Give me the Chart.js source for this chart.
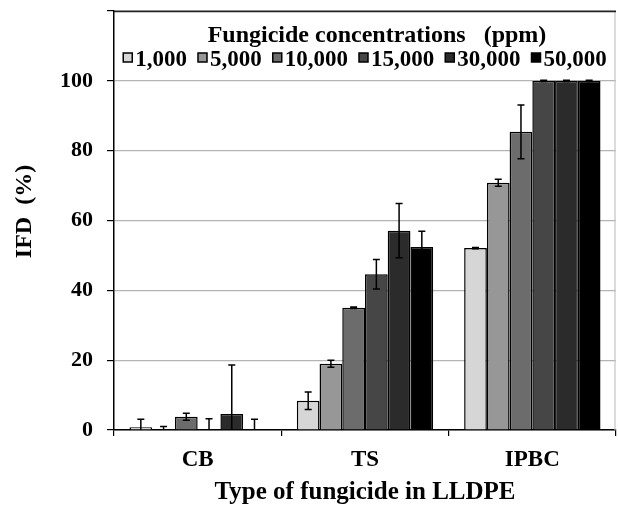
<!DOCTYPE html>
<html>
<head>
<meta charset="utf-8">
<script src="https://cdn.jsdelivr.net/npm/chart.js@4"></script>
<style>
  html, body { margin: 0; padding: 0; background: #fff; }
  #wrap { width: 618px; height: 505px; }
</style>
</head>
<body>
<div id="wrap"><canvas id="chart"></canvas></div>
<script>
// ===== DATA =====
const categories = ["CB", "TS", "IPBC"];
const concentrations = ["1,000", "5,000", "10,000", "15,000", "30,000", "50,000"];
const colors = ["#d6d6d6", "#979797", "#6c6c6c", "#464646", "#2b2b2b", "#000000"];

const ifd1000 = [0.8, 8.4, 52.1];
const ifd5000 = [0, 19, 70.8];
const ifd10000 = [3.8, 35, 85.4];
const ifd15000 = [0, 44.6, 100];
const ifd30000 = [4.6, 57.1, 100];
const ifd50000 = [0, 52.4, 100];

const err1000 = [2.3, 2.5, 0.2];
const err5000 = [1.0, 1.0, 1.0];
const err10000 = [1.0, 0.2, 7.7];
const err15000 = [3.2, 4.2, 0.2];
const err30000 = [14, 7.8, 0.2];
const err50000 = [3.1, 4.5, 0.2];

const yTicks = [0, 20, 40, 60, 80, 100, 120];

const values = [ifd1000, ifd5000, ifd10000, ifd15000, ifd30000, ifd50000];
const errors = [err1000, err5000, err10000, err15000, err30000, err50000];

const FONT = "'Liberation Serif', 'Times New Roman', serif";

// ===== FRAME (top + right edge of plot) =====
const plotFrame = {
  id: "plotFrame",
  afterDraw(chart) {
    const { ctx, chartArea: a } = chart;
    ctx.save();
    ctx.lineWidth = 1.2;
    ctx.strokeStyle = "#c4c4c4";
    ctx.beginPath();
    ctx.moveTo(a.right - 1, a.top);
    ctx.lineTo(a.right - 1, a.bottom);
    ctx.stroke();
    ctx.lineWidth = 1.5;
    ctx.strokeStyle = "#222";
    ctx.beginPath();
    ctx.moveTo(a.left, Math.round(a.top) + 0.5);
    ctx.lineTo(a.right, Math.round(a.top) + 0.5);
    ctx.stroke();
    ctx.restore();
  }
};

// ===== ERROR BARS =====
const errorBars = {
  id: "errorBars",
  afterDatasetsDraw(chart) {
    const { ctx } = chart;
    const y = chart.scales.y;
    ctx.save();
    ctx.strokeStyle = "#000";
    ctx.lineWidth = 1.5;
    chart.data.datasets.forEach((ds, i) => {
      const meta = chart.getDatasetMeta(i);
      meta.data.forEach((bar, j) => {
        const e = errors[i][j];
        if (!e) return;
        const v = ds.data[j];
        const yTop = y.getPixelForValue(v + e);
        const yBot = y.getPixelForValue(Math.max(0, v - e));
        const x = bar.x;
        ctx.beginPath();
        ctx.moveTo(x, yTop);
        ctx.lineTo(x, yBot);
        ctx.moveTo(x - 3.5, yTop);
        ctx.lineTo(x + 3.5, yTop);
        if (v - e > 0) {
          ctx.moveTo(x - 3.5, yBot);
          ctx.lineTo(x + 3.5, yBot);
        }
        ctx.stroke();
      });
    });
    ctx.restore();
  }
};

// ===== LEGEND (inside plot, one row) =====
const innerLegend = {
  id: "innerLegend",
  afterDraw(chart) {
    const { ctx, chartArea } = chart;
    const cx = (chartArea.left + chartArea.right) / 2;
    ctx.save();
    ctx.fillStyle = "#000";
    ctx.textBaseline = "alphabetic";

    ctx.font = "bold 24px " + FONT;
    ctx.textAlign = "center";
    ctx.fillText("Fungicide concentrations   (ppm)", cx + 12, 42);

    ctx.font = "bold 23px " + FONT;
    ctx.textAlign = "left";
    const box = 9, gap = 3, spacing = 11;
    const sets = chart.data.datasets;
    const widths = sets.map(ds => box + gap + ctx.measureText(ds.label).width);
    const total = widths.reduce((a, b) => a + b, 0) + spacing * (sets.length - 1);
    let x = cx - total / 2;
    sets.forEach((ds, i) => {
      ctx.fillStyle = ds.backgroundColor;
      ctx.fillRect(x, 53, box, box);
      ctx.strokeStyle = "#000";
      ctx.lineWidth = 1.5;
      ctx.strokeRect(x, 53, box, box);
      ctx.fillStyle = "#000";
      ctx.fillText(ds.label, x + box + gap, 66);
      x += widths[i] + spacing;
    });
    ctx.restore();
  }
};

// ===== CHART =====
new Chart(document.getElementById("chart"), {
  type: "bar",
  data: {
    labels: categories,
    datasets: concentrations.map((c, i) => ({
      label: c,
      data: values[i],
      backgroundColor: colors[i],
      borderColor: "#000",
      borderWidth: 1.5,
      categoryPercentage: 0.815,
      barPercentage: 1.0
    }))
  },
  options: {
    responsive: true,
    maintainAspectRatio: false,
    animation: false,
    layout: { padding: { top: 11, right: 2, left: 0, bottom: 0 } },
    plugins: {
      tooltip: { enabled: false },
      legend: { display: false }
    },
    scales: {
      x: {
        afterFit: s => { s.height = 75; s.paddingLeft = 0; s.paddingRight = 0; },
        border: { color: "#000", width: 1.5 },
        grid: {
          offset: true,
          drawOnChartArea: false,
          tickColor: "#000",
          tickLength: 6,
          lineWidth: 1.2
        },
        ticks: {
          color: "#000",
          padding: 10,
          font: { family: FONT, size: 23, weight: "bold" }
        },
        title: {
          display: true,
          text: "Type of fungicide in LLDPE",
          color: "#000",
          padding: { top: 0, bottom: 0 },
          font: { family: FONT, size: 25, weight: "bold", lineHeight: 1.0 }
        }
      },
      y: {
        min: 0,
        max: 120,
        afterFit: s => { s.width = 114; s.paddingTop = 0; s.paddingBottom = 0; },
        afterBuildTicks: s => { s.ticks = yTicks.map(v => ({ value: v })); },
        border: { color: "#000", width: 1.5 },
        grid: {
          color: "#b4b4b4",
          tickColor: "#000",
          tickLength: 7,
          lineWidth: 1.2
        },
        ticks: {
          color: "#000",
          padding: 14,
          font: { family: FONT, size: 22, weight: "bold" },
          callback: v => (v === 120 ? "" : v)
        },
        title: {
          display: true,
          text: "   IFD  (%)",
          color: "#000",
          padding: { top: 10, bottom: 0 },
          font: { family: FONT, size: 24, weight: "bold", lineHeight: 1.2 }
        }
      }
    }
  },
  plugins: [plotFrame, errorBars, innerLegend]
});
</script>
</body>
</html>
